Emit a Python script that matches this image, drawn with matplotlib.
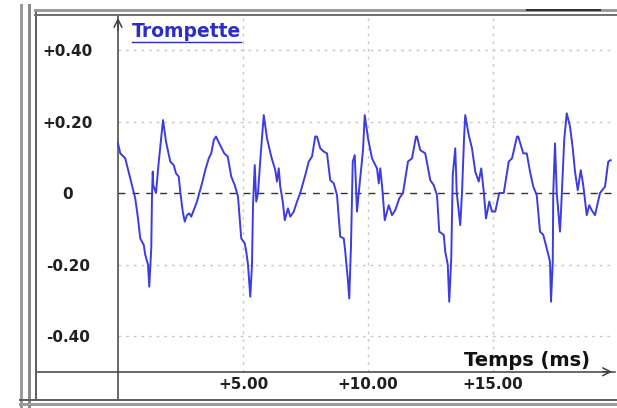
import matplotlib.pyplot as plt
from matplotlib.lines import Line2D

# waveform: time (ms) and amplitude
t_ms = [0.00, 0.09, 0.29, 0.49, 0.69, 0.80, 0.89, 1.03, 1.09, 1.20, 1.25, 1.33, 1.36, 1.39, 1.41,
        1.52, 1.62, 1.80, 1.92, 2.09, 2.23, 2.32, 2.43, 2.49, 2.59, 2.67, 2.76, 2.85, 2.93, 3.03,
        3.16, 3.25, 3.36, 3.49, 3.63, 3.73, 3.83, 3.92, 4.05, 4.25, 4.39, 4.53, 4.67, 4.80, 4.87,
        4.93, 5.07, 5.13, 5.20, 5.29, 5.36, 5.40, 5.47, 5.53, 5.60, 5.70, 5.83, 5.96, 6.13, 6.29,
        6.36, 6.43, 6.49, 6.59, 6.67, 6.80, 6.89, 7.03, 7.16, 7.29, 7.49, 7.63, 7.76, 7.89, 7.96,
        8.09, 8.23, 8.36, 8.49, 8.63, 8.76, 8.89, 9.03, 9.09, 9.19, 9.25, 9.32, 9.39, 9.47, 9.56,
        9.63, 9.80, 9.87, 10.00, 10.16, 10.36, 10.43, 10.49, 10.56, 10.67, 10.83, 10.96, 11.09, 11.25, 11.40,
        11.60, 11.76, 11.92, 11.96, 12.09, 12.29, 12.49, 12.63, 12.76, 12.85, 13.03, 13.09, 13.19, 13.25, 13.33,
        13.39, 13.49, 13.55, 13.69, 13.76, 13.84, 13.89, 14.03, 14.16, 14.29, 14.43, 14.53, 14.63, 14.72, 14.85,
        14.96, 15.09, 15.25, 15.43, 15.63, 15.76, 15.96, 16.01, 16.21, 16.35, 16.48, 16.61, 16.75, 16.88, 17.01,
        17.15, 17.28, 17.32, 17.39, 17.41, 17.48, 17.55, 17.68, 17.75, 17.85, 17.95, 18.08, 18.19, 18.28, 18.39,
        18.51, 18.61, 18.75, 18.85, 18.95, 19.08, 19.17, 19.28, 19.48, 19.61, 19.71]
amp = [0.139, 0.111, 0.097, 0.041, -0.015, -0.071, -0.127, -0.145, -0.173, -0.200, -0.262, -0.155, -0.006, 0.060, 0.022,
       0.000, 0.080, 0.204, 0.144, 0.088, 0.078, 0.055, 0.046, 0.004, -0.052, -0.080, -0.062, -0.057, -0.066, -0.048,
       -0.024, 0.000, 0.027, 0.064, 0.097, 0.111, 0.148, 0.158, 0.139, 0.111, 0.102, 0.046, 0.022, -0.010, -0.071,
       -0.127, -0.141, -0.164, -0.200, -0.290, -0.200, -0.034, 0.078, -0.024, 0.000, 0.100, 0.218, 0.153, 0.102, 0.064,
       0.032, 0.069, 0.018, -0.024, -0.076, -0.043, -0.066, -0.052, -0.024, 0.000, 0.050, 0.088, 0.102, 0.158, 0.158,
       0.125, 0.116, 0.111, 0.036, 0.027, -0.006, -0.122, -0.127, -0.164, -0.239, -0.295, -0.145, 0.088, 0.106, -0.052,
       0.000, 0.120, 0.218, 0.153, 0.097, 0.069, 0.027, 0.069, 0.022, -0.076, -0.034, -0.062, -0.048, -0.015, 0.000,
       0.088, 0.097, 0.158, 0.158, 0.120, 0.111, 0.036, 0.022, -0.006, -0.108, -0.117, -0.164, -0.200, -0.304, -0.183,
       0.050, 0.125, 0.000, -0.090, 0.000, 0.150, 0.218, 0.162, 0.125, 0.060, 0.032, 0.069, 0.004, -0.071, -0.024,
       -0.052, -0.052, 0.000, 0.000, 0.088, 0.097, 0.158, 0.158, 0.111, 0.111, 0.060, 0.018, -0.006, -0.108, -0.117,
       -0.155, -0.192, -0.304, -0.192, 0.000, 0.139, 0.000, -0.108, -0.006, 0.150, 0.223, 0.186, 0.125, 0.060, 0.008,
       0.064, 0.022, -0.062, -0.034, -0.048, -0.062, -0.034, 0.000, 0.018, 0.088, 0.092]

y_ticks = [0.4, 0.2, 0.0, -0.2, -0.4]
y_labels = ["+0.40", "+0.20", "0", "-0.20", "-0.40"]
x_ticks = [5, 10, 15]
x_labels = ["+5.00", "+10.00", "+15.00"]

W, H = 617, 408
fig = plt.figure(figsize=(W / 100, H / 100), dpi=100)
fig.patch.set_facecolor("white")

# inner box of the window, in pixels
bx0, by0, bx1, by1 = 37, 15, 615, 400
ax = fig.add_axes([bx0 / W, 1 - by1 / H, (bx1 - bx0) / W, (by1 - by0) / H])
xmin, xmax = -3.24, 19.88
ymin, ymax = -0.579, 0.498
ax.set_xlim(xmin, xmax)
ax.set_ylim(ymin, ymax)

for s in ["top", "right"]:
    ax.spines[s].set_visible(False)
ax.spines["left"].set_position(("data", 0))
ax.spines["bottom"].set_position(("data", -0.5))
for s in ["left", "bottom"]:
    ax.spines[s].set_color("#404040")
    ax.spines[s].set_linewidth(1.1)

# grid
grid_kw = dict(color="#c8c8c8", lw=1, ls=(0, (2, 3.5)), zorder=1)
ax.hlines([0.4, 0.2, -0.2, -0.4], 0, xmax, **grid_kw)
ax.vlines(x_ticks, -0.5, ymax, **grid_kw)
ax.hlines(0, 0, xmax, color="#333333", lw=1, ls=(0, (5, 5)), zorder=2)

ax.plot(t_ms, amp, color="#3c3ce0", lw=1.4, zorder=3)

# ticks
ax.set_yticks(y_ticks)
ax.set_yticklabels(y_labels)
ax.set_xticks(x_ticks)
ax.set_xticklabels(x_labels)
ax.tick_params(axis="y", length=0, pad=36)
ax.tick_params(axis="x", length=0, pad=9)
for lab in ax.get_yticklabels():
    lab.set_horizontalalignment("center")
    lab.set_fontweight("bold")
    lab.set_fontsize(11)
    lab.set_color("#202020")
for lab in ax.get_xticklabels():
    lab.set_verticalalignment("center")
    lab.set_fontweight("bold")
    lab.set_fontsize(11)
    lab.set_color("#202020")

# arrows on the axes
arr = dict(arrowstyle="->", color="#404040", lw=1.1, mutation_scale=14)
ax.annotate("", xy=(0, ymax), xytext=(0, ymax - 0.05), arrowprops=arr, annotation_clip=False)
ax.annotate("", xy=(xmax, -0.5), xytext=(xmax - 0.6, -0.5), arrowprops=arr, annotation_clip=False)

title = ax.text(0.56, 0.436, "Trompette", color="#2c2cc8", fontsize=13.5, fontweight="bold",
                ha="left", va="baseline")
ax.text(18.88, -0.484, "Temps (ms)", color="#111111", fontsize=14, fontweight="bold",
        ha="right", va="baseline")

# underline the title
fig.canvas.draw()
bb = title.get_window_extent()
fig.add_artist(Line2D([bb.x0 / W, bb.x1 / W], [(bb.y0 - 1) / H, (bb.y0 - 1) / H],
                      transform=fig.transFigure, color="#2c2cc8", lw=1))


# window frame
def frame_line(xs, ys, color, lw):
    fig.add_artist(Line2D([x / W for x in xs], [1 - y / H for y in ys],
                          transform=fig.transFigure, color=color, lw=lw * 0.72))


frame_line([20.5, 20.5], [5, 406], "#9a9a9a", 3)
frame_line([28.5, 28.5], [5, 406], "#8a8a8a", 3)
frame_line([36, 36], [13, 400], "#606060", 2)
frame_line([35, 617], [10, 10], "#9a9a9a", 3)
frame_line([35, 617], [14.5, 14.5], "#707070", 2)
frame_line([527, 600], [9.5, 9.5], "#303030", 2)
frame_line([20, 617], [400, 400], "#606060", 2)
frame_line([20, 617], [404, 404], "#9a9a9a", 3)

fig.savefig("out.png", dpi=100)
